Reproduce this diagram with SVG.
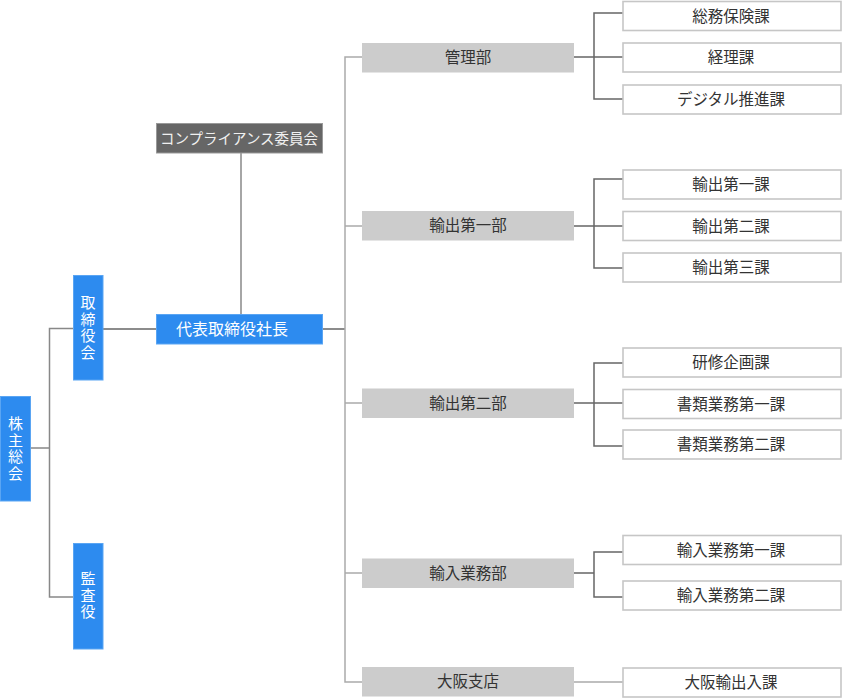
<svg xmlns="http://www.w3.org/2000/svg" width="842" height="698" viewBox="0 0 842 698">
<style>
text{font-family:"Noto Sans CJK JP","Noto Sans",sans-serif;font-size:15.5px;text-anchor:middle}
.v{writing-mode:vertical-rl;letter-spacing:1.5px;font-size:15px}
.blue{fill:#2d8bef;stroke:#5aa5f3;stroke-width:1}
.bt{fill:#fff}
.dept{fill:#cccccc}
.dt{fill:#333}
.sec{fill:#fff;stroke:#c6c6c6;stroke-width:1.6}
.st{fill:#333}
.comp{fill:#666;stroke:#999;stroke-width:1}
.ct{fill:#f0f0f0;font-size:14.5px}
.ln{fill:none;stroke:#888;stroke-width:1.5}
.dk{fill:none;stroke:#666;stroke-width:1.5}
.lt{fill:none;stroke:#aaa;stroke-width:1.5}
</style>
<g id="connectors">
<path class="ln" d="M30,448 H49.5 M73,328.5 H49.5 V597 H73"/>
<path class="dk" d="M103,329 H156"/>
<path class="ln" d="M241,153 V314"/>
<path class="dk" d="M323,329 H345"/>
<path class="lt" d="M362,57 H345 V682 H362 M345,226 H362 M345,403 H362 M345,573 H362"/>
<path class="dk" d="M574,57 H594 M623,13 H594 V99 H623 M594,57 H623"/>
<path class="dk" d="M574,226 H594 M623,179 H594 V268 H623 M594,226 H623"/>
<path class="dk" d="M574,403 H594 M623,363 H594 V446 H623 M594,403 H623"/>
<path class="dk" d="M574,573 H594 M623,552 H594 V597 H623"/>
<path class="lt" d="M574,682 H623"/>
</g>
<g id="kabunushi"><rect class="blue" x="0.5" y="396.5" width="30" height="104.5"/>
<text class="bt v" x="15.5" y="449">株主総会</text></g>
<g id="torishimariyakukai"><rect class="blue" x="73.5" y="275.5" width="29.5" height="104.5"/>
<text class="bt v" x="88" y="328">取締役会</text></g>
<g id="kansayaku"><rect class="blue" x="73.5" y="543.5" width="29.5" height="105.5"/>
<text class="bt v" x="88" y="596">監査役</text></g>
<g id="shacho"><rect class="blue" x="156.5" y="314.5" width="166" height="29.5"/>
<text class="bt" x="232" y="335" style="font-size:16px">代表取締役社長</text></g>
<g id="compliance"><rect class="comp" x="156.5" y="123.5" width="166" height="29.5"/>
<text class="ct" x="239" y="143.5">コンプライアンス委員会</text></g>
<g id="kanri"><rect class="dept" x="362" y="43" width="212" height="29.5"/><text class="dt" x="468" y="63">管理部</text></g>
<g id="yushutsu1"><rect class="dept" x="362" y="211" width="212" height="29.5"/><text class="dt" x="468" y="231">輸出第一部</text></g>
<g id="yushutsu2"><rect class="dept" x="362" y="388.5" width="212" height="29.5"/><text class="dt" x="468" y="408.5">輸出第二部</text></g>
<g id="yunyu"><rect class="dept" x="362" y="558.5" width="212" height="29.5"/><text class="dt" x="468" y="578.5">輸入業務部</text></g>
<g id="osaka"><rect class="dept" x="362" y="667" width="212" height="29.5"/><text class="dt" x="468" y="687">大阪支店</text></g>
<g id="somu"><rect class="sec" x="623" y="1.5" width="218" height="29"/><text class="st" x="731" y="21.5">総務保険課</text></g>
<g id="keiri"><rect class="sec" x="623" y="43" width="218" height="29"/><text class="st" x="731" y="63">経理課</text></g>
<g id="digital"><rect class="sec" x="623" y="85" width="218" height="29"/><text class="st" x="731" y="105">デジタル推進課</text></g>
<g id="y1k1"><rect class="sec" x="623" y="170" width="218" height="29"/><text class="st" x="731" y="190">輸出第一課</text></g>
<g id="y1k2"><rect class="sec" x="623" y="211.5" width="218" height="29"/><text class="st" x="731" y="231.5">輸出第二課</text></g>
<g id="y1k3"><rect class="sec" x="623" y="253" width="218" height="29"/><text class="st" x="731" y="273">輸出第三課</text></g>
<g id="kenshu"><rect class="sec" x="623" y="348" width="218" height="29"/><text class="st" x="731" y="368">研修企画課</text></g>
<g id="shorui1"><rect class="sec" x="623" y="389.5" width="218" height="29"/><text class="st" x="731" y="409.5">書類業務第一課</text></g>
<g id="shorui2"><rect class="sec" x="623" y="430" width="218" height="29"/><text class="st" x="731" y="450">書類業務第二課</text></g>
<g id="yunyu1"><rect class="sec" x="623" y="535.5" width="218" height="29"/><text class="st" x="731" y="555.5">輸入業務第一課</text></g>
<g id="yunyu2"><rect class="sec" x="623" y="581" width="218" height="29"/><text class="st" x="731" y="601">輸入業務第二課</text></g>
<g id="osakaka"><rect class="sec" x="623" y="668" width="218" height="29"/><text class="st" x="731" y="688">大阪輸出入課</text></g>
</svg>
